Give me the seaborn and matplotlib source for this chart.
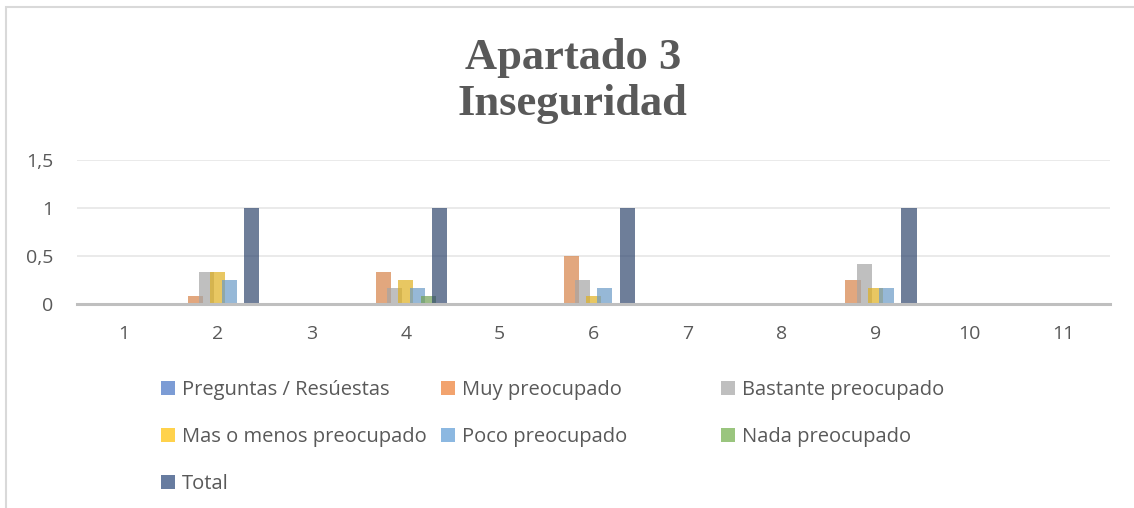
import pandas as pd
import matplotlib.pyplot as plt
import seaborn as sns
from matplotlib.patches import Patch, Rectangle

# data
categories = ["1", "2", "3", "4", "5", "6", "7", "8", "9", "10", "11"]
series = ["Preguntas / Resúestas", "Muy preocupado", "Bastante preocupado",
          "Mas o menos preocupado", "Poco preocupado", "Nada preocupado", "Total"]
preguntas = [0, 0, 0, 0, 0, 0, 0, 0, 0, 0, 0]
muy = [0, 0.083, 0, 0.333, 0, 0.5, 0, 0, 0.25, 0, 0]
bastante = [0, 0.333, 0, 0.167, 0, 0.25, 0, 0, 0.417, 0, 0]
mas_menos = [0, 0.333, 0, 0.25, 0, 0.083, 0, 0, 0.167, 0, 0]
poco = [0, 0.25, 0, 0.167, 0, 0.167, 0, 0, 0.167, 0, 0]
nada = [0, 0, 0, 0.083, 0, 0, 0, 0, 0, 0, 0]
total = [0, 1, 0, 1, 0, 1, 0, 0, 1, 0, 0]
yticks = [0, 0.5, 1, 1.5]
ytick_labels = ["0", "0,5", "1", "1,5"]

colors = ["#4472C4", "#ED7D31", "#A5A5A5", "#FFC000", "#5B9BD5", "#70AD47", "#264478"]

values = [preguntas, muy, bastante, mas_menos, poco, nada, total]
rows = []
for s, vals in zip(series, values):
    for c, v in zip(categories, vals):
        rows.append({"cat": c, "serie": s, "valor": v})
df = pd.DataFrame(rows)

sns.set_style("white")
plt.rcParams['font.family'] = ['Open Sans', 'DejaVu Sans']
text_col = "#595959"

fig = plt.figure(figsize=(11.34, 5.08), dpi=100)
ax = fig.add_axes([0.068, 0.402, 0.911, 0.283])

sns.barplot(data=df, x="cat", y="valor", hue="serie", hue_order=series,
            order=categories, palette=colors, width=0.835, alpha=0.7,
            linewidth=0, ax=ax, zorder=3)
ax.get_legend().remove()

# widen bars a bit so neighbours overlap like the original
for p in ax.patches:
    cx = p.get_x() + p.get_width() / 2
    p.set_width(0.16)
    p.set_x(cx - 0.08)

ax.set_ylim(0, 1.5)
ax.set_xlim(-0.5, 10.5)
ax.set_yticks(yticks)
ax.set_yticklabels(ytick_labels)
ax.set_xlabel("")
ax.set_ylabel("")
ax.grid(axis="y", color="#E6E6E6", linewidth=1.2, zorder=0)
ax.set_axisbelow(True)
for sp in ["top", "right", "left"]:
    ax.spines[sp].set_visible(False)
ax.spines["bottom"].set_color("#BFBFBF")
ax.spines["bottom"].set_linewidth(2.2)
ax.spines["bottom"].set_zorder(4)
ax.tick_params(axis="both", length=0, labelsize=14, labelcolor=text_col)
ax.tick_params(axis="y", pad=17)
ax.tick_params(axis="x", pad=15)

# title
fig.text(0.505, 0.885, "Apartado 3", ha="center", va="center", fontsize=32,
         fontweight="bold", family="Liberation Serif", color=text_col)
fig.text(0.505, 0.795, "Inseguridad", ha="center", va="center", fontsize=32,
         fontweight="bold", family="Liberation Serif", color=text_col)

# legend in three fixed columns
handles = [Patch(facecolor=c, alpha=0.7, edgecolor="none") for c in colors]
columns = [[0, 3, 6], [1, 4], [2, 5]]
xs = [0.142, 0.389, 0.636]
for idx, x in zip(columns, xs):
    fig.legend([handles[i] for i in idx], [series[i] for i in idx],
               loc="upper left", bbox_to_anchor=(x, 0.252), frameon=False,
               fontsize=14.5, labelcolor=text_col, handlelength=0.7,
               handleheight=0.7, handletextpad=0.35, labelspacing=1.35,
               borderpad=0, borderaxespad=0)

# outer chart border
fig.patches.append(Rectangle((6 / 1134, -0.1), 1.2, 1 - 7 / 508 + 0.1,
                             transform=fig.transFigure, fill=False,
                             edgecolor="#D9D9D9", linewidth=1.5))

fig.savefig("out.png", dpi=100)
